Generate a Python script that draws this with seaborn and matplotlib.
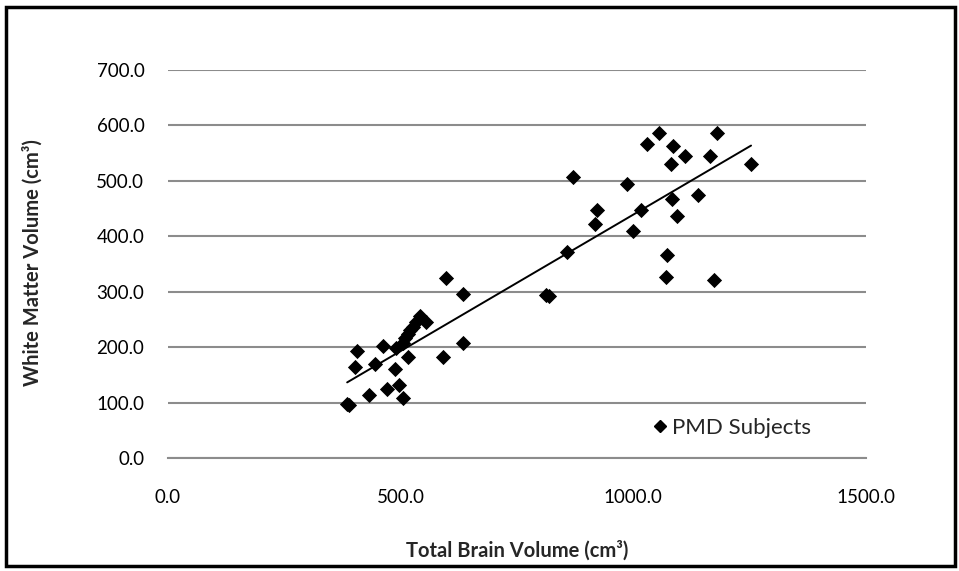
import matplotlib
matplotlib.use("Agg")
import matplotlib.pyplot as plt
import seaborn as sns
import pandas as pd
from matplotlib.patches import Rectangle
from matplotlib.lines import Line2D

# Data
total_brain_volume = [385, 390, 433, 471, 497, 504, 402, 407, 445, 461, 488, 491, 516,
                      505, 509, 516, 520, 527, 533, 542, 554, 590, 633, 633, 598,
                      812, 818, 858, 870, 918, 922, 987, 999, 1016, 1030, 1056, 1086,
                      1080, 1112, 1165, 1179, 1253, 1140, 1083, 1093, 1072, 1070, 1173]
white_matter_volume = [97, 95, 114, 124, 131, 108, 165, 193, 170, 202, 161, 198, 182,
                       207, 216, 224, 231, 236, 245, 256, 245, 183, 207, 295, 325,
                       294, 292, 372, 507, 422, 448, 495, 409, 447, 566, 586, 562,
                       530, 544, 545, 587, 530, 475, 468, 436, 367, 326, 322]
series_label = "PMD Subjects"
x_ticks = [0, 500, 1000, 1500]
y_ticks = [0, 100, 200, 300, 400, 500, 600, 700]

df = pd.DataFrame({"tbv": total_brain_volume, "wmv": white_matter_volume})

sns.set_theme(style="white")
plt.rcParams["font.family"] = ["Lato", "DejaVu Sans"]

fig = plt.figure(figsize=(9.59, 5.71), dpi=100)
ax = fig.add_axes([168 / 959, 1 - 458 / 571, 698 / 959, 388 / 571])

sns.scatterplot(data=df, x="tbv", y="wmv", marker="D", s=60, color="black",
                edgecolor="black", linewidth=0, ax=ax, legend=False, zorder=3)
sns.regplot(data=df, x="tbv", y="wmv", scatter=False, ci=None, truncate=True,
            color="black", line_kws={"linewidth": 1.4, "zorder": 2}, ax=ax)

ax.set_xlim(0, 1500)
ax.set_ylim(0, 700)
ax.set_xticks(x_ticks)
ax.set_yticks(y_ticks)
ax.set_xticklabels([f"{v:.1f}" for v in x_ticks], fontsize=13.5)
ax.set_yticklabels([f"{v:.1f}" for v in y_ticks], fontsize=13.5)
ax.tick_params(axis="both", length=0, colors="black")
ax.tick_params(axis="x", pad=22)
ax.tick_params(axis="y", pad=17)

ax.yaxis.grid(True, color="#8c8c8c", linewidth=1.5)
ax.xaxis.grid(False)
ax.set_axisbelow(True)
for side in ["left", "right", "top"]:
    ax.spines[side].set_visible(False)
ax.spines["bottom"].set_color("#8c8c8c")
ax.spines["bottom"].set_linewidth(1.5)

ax.set_xlabel("")
ax.set_ylabel("")
fig.text(517 / 959, 1 - 551 / 571, "Total Brain Volume (cm³)", ha="center", va="center",
         fontsize=14.5, fontweight="bold")
fig.text(33 / 959, 1 - 263 / 571, "White Matter Volume (cm³)", ha="center", va="center",
         rotation=90, fontsize=14.5, fontweight="bold")

handle = Line2D([], [], marker="D", color="black", linestyle="none", markersize=6.5)
ax.legend([handle], [series_label], loc="center left", bbox_to_anchor=(0.66, 0.077),
          frameon=False, fontsize=16, handletextpad=0.05, handlelength=1.0)

fig.patches.append(Rectangle((6 / 959, 1 - 566 / 571), 949 / 959, 559 / 571,
                             transform=fig.transFigure, fill=False,
                             edgecolor="black", linewidth=2.5))

fig.savefig("out.png", dpi=100)
